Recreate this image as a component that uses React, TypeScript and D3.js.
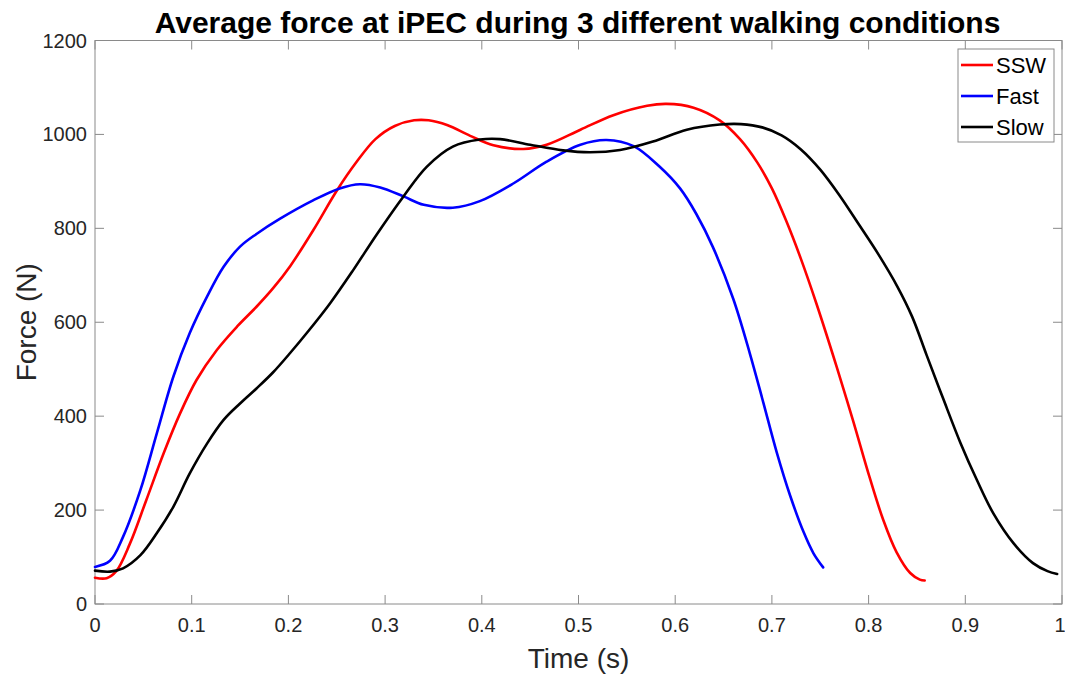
import React from "react";
import * as d3 from "d3";

const TITLE = "Average force at iPEC during 3 different walking conditions";
const X_LABEL = "Time (s)";
const Y_LABEL = "Force (N)";
const X_TICKS = [0, 0.1, 0.2, 0.3, 0.4, 0.5, 0.6, 0.7, 0.8, 0.9, 1];
const Y_TICKS = [0, 200, 400, 600, 800, 1000, 1200];
const SERIES_NAMES = ["SSW", "Fast", "Slow"];
const SERIES_COLORS = ["#ff0000", "#0000ff", "#000000"];

const sswTime = [0, 0.012, 0.022, 0.036, 0.053, 0.071, 0.088, 0.105, 0.126, 0.147, 0.167, 0.184, 0.202, 0.226, 0.25, 0.27, 0.29, 0.31, 0.33, 0.345, 0.364, 0.388, 0.412, 0.443, 0.467, 0.502, 0.536, 0.571, 0.591, 0.619, 0.646, 0.667, 0.685, 0.7, 0.715, 0.73, 0.746, 0.767, 0.784, 0.801, 0.815, 0.829, 0.843, 0.853, 0.858];
const sswForce = [56, 55, 70, 128, 221, 321, 406, 477, 541, 591, 633, 672, 720, 797, 880, 940, 990, 1018, 1030, 1030, 1020, 997, 977, 969, 978, 1010, 1041, 1061, 1065, 1057, 1030, 990, 940, 885, 815, 735, 640, 505, 390, 270, 180, 110, 66, 52, 50];

const fastTime = [0, 0.0155, 0.029, 0.047, 0.064, 0.081, 0.098, 0.116, 0.133, 0.15, 0.167, 0.191, 0.226, 0.253, 0.274, 0.295, 0.319, 0.34, 0.37, 0.398, 0.433, 0.467, 0.502, 0.529, 0.557, 0.584, 0.605, 0.622, 0.639, 0.66, 0.677, 0.691, 0.705, 0.719, 0.733, 0.743, 0.753];
const fastForce = [79, 92, 143, 243, 364, 484, 577, 655, 718, 761, 788, 820, 860, 885, 894, 887, 868, 850, 844, 858, 896, 942, 978, 988, 975, 931, 885, 830, 760, 650, 535, 430, 323, 230, 152, 108, 78];

const slowTime = [0, 0.0155, 0.029, 0.047, 0.064, 0.081, 0.098, 0.116, 0.133, 0.15, 0.167, 0.184, 0.202, 0.219, 0.243, 0.267, 0.291, 0.319, 0.343, 0.37, 0.398, 0.419, 0.45, 0.484, 0.512, 0.543, 0.577, 0.612, 0.646, 0.668, 0.69, 0.71, 0.73, 0.75, 0.77, 0.79, 0.81, 0.83, 0.845, 0.86, 0.877, 0.895, 0.912, 0.929, 0.95, 0.97, 0.985, 0.995];
const slowForce = [71, 69, 76, 104, 151, 207, 278, 342, 392, 427, 459, 493, 535, 577, 640, 711, 786, 868, 931, 974, 989, 990, 978, 966, 962, 967, 985, 1010, 1021, 1022, 1015, 998, 968, 925, 870, 808, 745, 675, 612, 530, 438, 343, 264, 193, 129, 87, 70, 64];

const SERIES = [
  { t: sswTime, f: sswForce },
  { t: fastTime, f: fastForce },
  { t: slowTime, f: slowForce },
];

const W = 1065;
const H = 675;
const LEFT = 95;
const RIGHT = 1062;
const TOP = 40.5;
const BOTTOM = 604;
const AXIS_COLOR = "#8a8a8a";
const TEXT_COLOR = "#262626";
const FONT = "Arial, 'Liberation Sans', Helvetica, sans-serif";

export default function App() {
  const x = d3.scaleLinear().domain([0, 1]).range([LEFT, RIGHT]);
  const y = d3.scaleLinear().domain([0, 1200]).range([BOTTOM, TOP]);
  const line = d3
    .line<[number, number]>()
    .x((d) => x(d[0]))
    .y((d) => y(d[1]))
    .curve(d3.curveCatmullRom.alpha(0.5));
  const tickLen = 9;

  const legX = 958;
  const legY = 49;
  const legW = 96;
  const legH = 93;

  return (
    <svg
      width={W}
      height={H}
      style={{ position: "absolute", left: 0, top: 0, background: "#fff" }}
      fontFamily={FONT}
    >
      <rect x={0} y={0} width={W} height={H} fill="#fff" />
      <rect x={LEFT} y={TOP} width={RIGHT - LEFT} height={BOTTOM - TOP} fill="none" stroke={AXIS_COLOR} strokeWidth={1} />
      {X_TICKS.map((t, i) => (
        <g key={"x" + t}>
          <line x1={x(t)} x2={x(t)} y1={BOTTOM} y2={BOTTOM - tickLen} stroke={AXIS_COLOR} />
          <line x1={x(t)} x2={x(t)} y1={TOP} y2={TOP + tickLen} stroke={AXIS_COLOR} />
          <text
            x={i === X_TICKS.length - 1 ? x(t) - 2 : x(t)}
            y={632}
            textAnchor="middle"
            fontSize={20}
            fill={TEXT_COLOR}
          >
            {String(t)}
          </text>
        </g>
      ))}
      {Y_TICKS.map((v) => (
        <g key={"y" + v}>
          <line x1={LEFT} x2={LEFT + tickLen} y1={y(v)} y2={y(v)} stroke={AXIS_COLOR} />
          <line x1={RIGHT} x2={RIGHT - tickLen} y1={y(v)} y2={y(v)} stroke={AXIS_COLOR} />
          <text x={LEFT - 8} y={y(v) + 7} textAnchor="end" fontSize={20} fill={TEXT_COLOR}>
            {String(v)}
          </text>
        </g>
      ))}
      {SERIES.map((s, i) => (
        <path
          key={SERIES_NAMES[i]}
          d={line(s.t.map((t, j) => [t, s.f[j]] as [number, number])) || ""}
          fill="none"
          stroke={SERIES_COLORS[i]}
          strokeWidth={2.6}
          strokeLinejoin="round"
          strokeLinecap="round"
        />
      ))}
      <text x={(LEFT + RIGHT) / 2 - 1} y={33} textAnchor="middle" fontSize={30} fontWeight="bold" fill="#000">
        {TITLE}
      </text>
      <text x={(LEFT + RIGHT) / 2} y={668} textAnchor="middle" fontSize={28} fill={TEXT_COLOR}>
        {X_LABEL}
      </text>
      <text
        transform={`translate(36, ${(TOP + BOTTOM) / 2}) rotate(-90)`}
        textAnchor="middle"
        fontSize={28}
        fill={TEXT_COLOR}
      >
        {Y_LABEL}
      </text>
      <rect x={legX} y={legY} width={legW} height={legH} fill="#fff" stroke={AXIS_COLOR} strokeWidth={1} />
      {SERIES_NAMES.map((n, i) => {
        const cy = 65 + i * 31;
        return (
          <g key={"leg" + n}>
            <line x1={961} x2={993} y1={cy} y2={cy} stroke={SERIES_COLORS[i]} strokeWidth={2.6} />
            <text x={996} y={cy + 8} fontSize={22} fill="#000">
              {n}
            </text>
          </g>
        );
      })}
    </svg>
  );
}
